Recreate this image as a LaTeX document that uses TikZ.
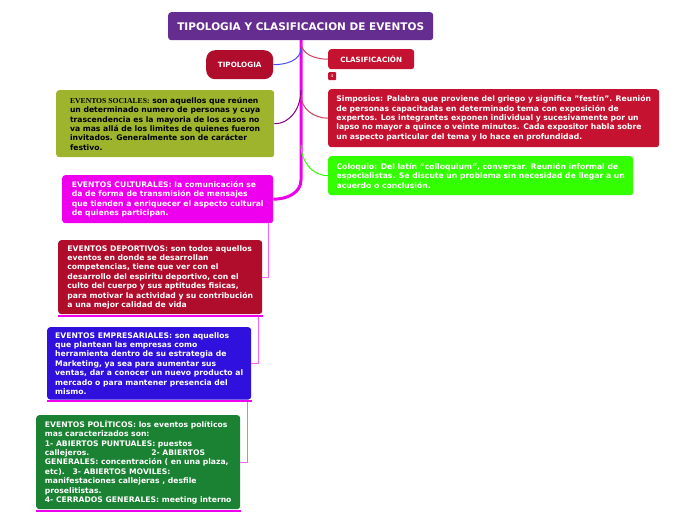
\documentclass[tikz,border=0pt]{standalone}
\usepackage{fontspec}
\setmainfont{DejaVu Sans}
\newfontfamily\serifb{Liberation Serif}
\usetikzlibrary{positioning}
\definecolor{titlepurple}{HTML}{662D91}
\definecolor{crimson}{HTML}{C41230}
\definecolor{darkcrimson}{HTML}{B00C2C}
\definecolor{olive}{HTML}{9DB42C}
\definecolor{hotmagenta}{HTML}{EE00EE}
\definecolor{limegreen}{HTML}{33FF00}
\definecolor{royalblue}{HTML}{3010DC}
\definecolor{forest}{HTML}{1A8232}
\begin{document}
\begin{tikzpicture}[
                x=1pt, y=-1pt,
                every node/.style={
                    rounded corners=3pt,
                    text=white,
                    font=\bfseries\fontsize{7.65}{9.4}\selectfont,
                    align=left,
                    inner sep=0pt
                },
                topic/.style={anchor=north west, inner xsep=7pt, inner ysep=5pt},
                branch/.style={line width=1pt},
                trunk/.style={line width=3pt, hotmagenta},
                underline/.style={line width=2pt, hotmagenta},
                thinlink/.style={line width=0.6pt, hotmagenta!60}
            ]
                \useasboundingbox (0,0) rectangle (696,520);
                % nodos
                \node[fill=titlepurple, minimum width=265pt, minimum height=28pt, font=\bfseries\fontsize{10.5}{12}\selectfont, anchor=north west] (titulo) at (168,12) {TIPOLOGIA Y CLASIFICACION DE EVENTOS};
                \node[fill=darkcrimson, rounded corners=9pt, minimum width=67pt, minimum height=29pt, font=\bfseries\fontsize{7.2}{8}\selectfont, anchor=north west] (tipologia) at (206,50) {TIPOLOGIA};
                \node[fill=crimson, minimum width=86pt, minimum height=20pt, font=\bfseries\fontsize{7.2}{8}\selectfont, anchor=north west, align=center] (clasif) at (328,49) {CLASIFICACIÓN};
                \node[fill=crimson, rounded corners=1pt, minimum width=8pt, minimum height=8pt, font=\fontsize{4}{5}\selectfont, anchor=north west, align=center] (num) at (328,72) {4};
                \node[fill=crimson, topic, inner xsep=6pt, minimum width=331pt, minimum height=58pt] (simposios) at (328,89) {Simposios: Palabra que proviene del griego y significa "festín". Reunión\\de personas capacitadas en determinado tema con exposición de\\expertos. Los integrantes exponen individual y sucesivamente por un\\lapso no mayor a quince o veinte minutos. Cada expositor habla sobre\\un aspecto particular del tema y lo hace en profundidad.};
                \node[fill=limegreen, topic, inner xsep=6pt, inner ysep=4pt, minimum width=305pt, minimum height=39pt] (coloquio) at (328,156) {Coloquio: Del latín "colloquium", conversar. Reunión informal de\\especialistas. Se discute un problema sin necesidad de llegar a un\\acuerdo o conclusión.};
                \node[fill=olive, topic, text=black, minimum width=218pt, minimum height=67pt] (sociales) at (56,90) {{\serifb EVENTOS SOCIALES:} son aquellos que reúnen\\un determinado numero de personas y cuya\\trascendencia es la mayoria de los casos no\\va mas allá de los limites de quienes fueron\\invitados. Generalmente son de carácter\\festivo.};
                \node[fill=hotmagenta, topic, minimum width=211pt, minimum height=48pt] (culturales) at (62,175) {EVENTOS CULTURALES: la comunicación se\\da de forma de transmisión de mensajes\\que tienden a enriquecer el aspecto cultural\\de quienes participan.};
                \node[fill=darkcrimson, topic, inner xsep=4pt, minimum width=204pt, minimum height=72pt] (deportivos) at (58,240) {EVENTOS DEPORTIVOS: son todos aquellos\\eventos en donde se desarrollan\\competencias, tiene que ver con el\\desarrollo del espiritu deportivo, con el\\culto del cuerpo y sus aptitudes fisicas,\\para motivar la actividad y su contribución\\a una mejor calidad de vida};
                \node[fill=royalblue, topic, inner xsep=5pt, minimum width=204pt, minimum height=72pt] (empresariales) at (47,327) {EVENTOS EMPRESARIALES: son aquellos\\que plantean las empresas como\\herramienta dentro de su estrategia de\\Marketing, ya sea para aumentar sus\\ventas, dar a conocer un nuevo producto al\\mercado o para mantener presencia del\\mismo.};
                \node[fill=forest, topic, inner xsep=5pt, minimum width=204pt, minimum height=91pt] (politicos) at (36,415) {EVENTOS POLÍTICOS: los eventos políticos\\mas caracterizados son:\\1- ABIERTOS PUNTUALES: puestos\\callejeros.\hspace{62pt}2- ABIERTOS\\GENERALES: concentración ( en una plaza,\\etc).\hspace{8pt}3- ABIERTOS MOVILES:\\manifestaciones callejeras , desfile\\proselitistas.\\4- CERRADOS GENERALES: meeting interno};

                % tronco
                \coordinate (top) at (301,40);
                \draw[trunk] (top) -- (301,180) to[out=270,in=0] (culturales.east);
                % ramas
                \draw[branch, blue!70] (301,48) to[out=270,in=0] (tipologia.east);
                \draw[branch, violet] (301,90) to[out=270,in=0] (sociales.east);
                \draw[branch, crimson!80] (301,42) to[out=270,in=180] (clasif.west);
                \draw[branch, crimson!80] (301,95) to[out=270,in=180] (simposios.west);
                \draw[branch, limegreen] (301,145) to[out=270,in=180] (coloquio.west);
                % enlaces inferiores
                \draw[thinlink] (268,223) |- (deportivos.east);
                \draw[thinlink] (deportivos.south east) ++(-4,2) |- (empresariales.east);
                \draw[thinlink] (empresariales.south east) ++(-4,2) |- (politicos.east);
                \draw[underline] (deportivos.south west) ++(0,1.5) -- ++(205,0);
                \draw[underline] (empresariales.south west) ++(0,1.5) -- ++(205,0);
                \draw[underline] (politicos.south west) ++(0,1.5) -- ++(205,0);
\end{tikzpicture}
\end{document}
